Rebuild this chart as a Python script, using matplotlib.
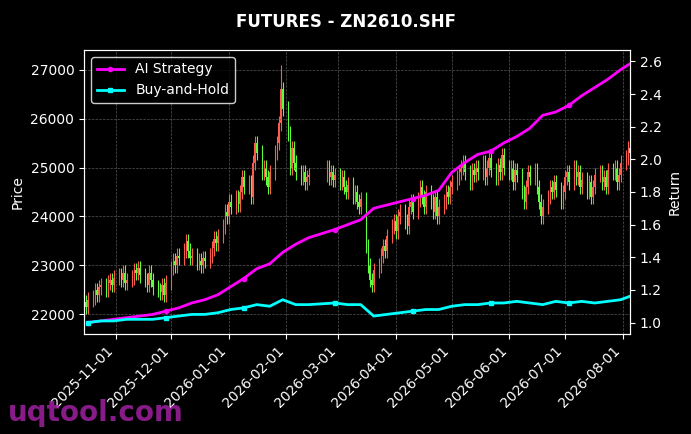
import numpy as np
import pandas as pd
import matplotlib
matplotlib.use("Agg")
import matplotlib.pyplot as plt
import matplotlib.dates as mdates

# weekly rows of daily closes (Mon..Fri), CNY week skipped
WEEKS = ["2025-10-13", "2025-10-20", "2025-10-27", "2025-11-03", "2025-11-10", "2025-11-17",
         "2025-11-24", "2025-12-01", "2025-12-08", "2025-12-15", "2025-12-22", "2025-12-29",
         "2026-01-05", "2026-01-12", "2026-01-19", "2026-01-26", "2026-02-02", "2026-02-09",
         "2026-02-23", "2026-03-02", "2026-03-09", "2026-03-16", "2026-03-23", "2026-03-30",
         "2026-04-06", "2026-04-13", "2026-04-20", "2026-04-27", "2026-05-04", "2026-05-11",
         "2026-05-18", "2026-05-25", "2026-06-01", "2026-06-08", "2026-06-15", "2026-06-22",
         "2026-06-29", "2026-07-06", "2026-07-13", "2026-07-20", "2026-07-27", "2026-08-03"]
CLOSES = [
    [22200, 22050, 22250, 22150, 22300], [22350, 22500, 22400, 22550, 22600],
    [22500, 22650, 22700, 22600, 22750], [22800, 22700, 22850, 22650, 22700],
    [22750, 22900, 22850, 22950, 22800], [22700, 22600, 22850, 22700, 22550],
    [22500, 22450, 22600, 22400, 22650], [22950, 23100, 23000, 23200, 23150],
    [23300, 23500, 23300, 23150, 23200], [23050, 23100, 23000, 23150, 23100],
    [23200, 23350, 23550, 23450, 23600], [23800, 24100, 24000, 24300, 24200],
    [24400, 24250, 24500, 24800, 24600], [24700, 24400, 25100, 25500, 25300],
    [24900, 25000, 24800, 24600, 24900], [25300, 25500, 25900, 26600, 26200],
    [25700, 25000, 25400, 25100, 24900], [24800, 24900, 24700, 24800, 24850],
    [25000, 24800, 24900, 24750, 24850], [24700, 24800, 24600, 24500, 24650],
    [24400, 24500, 24300, 24200, 24350], [23400, 23000, 22700, 22600, 22900],
    [23000, 23200, 23400, 23300, 23600], [23800, 23900, 23700, 24000, 24100],
    [23900, 23800, 24200, 24300, 24100], [24350, 24600, 24400, 24200, 24500],
    [24300, 24100, 24400, 24000, 24200], [24300, 24500, 24400, 24600, 24700],
    [24800, 24900, 25000, 25100, 24900], [24700, 24950, 24850, 25000, 24900],
    [25100, 24800, 25000, 25200, 24950], [24800, 25050, 24900, 25250, 25000],
    [24900, 25000, 24700, 24950, 24850], [24500, 24300, 24600, 24900, 24800],
    [24950, 24600, 24300, 24000, 24200], [24400, 24600, 24500, 24700, 24550],
    [24300, 24500, 24800, 24900, 24700], [25000, 24800, 24900, 24600, 24750],
    [24500, 24700, 24400, 24600, 24850], [24900, 24700, 24800, 24600, 24950],
    [24900, 25000, 24700, 24850, 25100], [25200, 25400, 25300]]
STRATEGY = [1.00, 1.01, 1.02, 1.03, 1.04, 1.05, 1.07, 1.09, 1.12, 1.14, 1.17, 1.22, 1.27, 1.33,
            1.36, 1.43, 1.48, 1.52, 1.57, 1.60, 1.63, 1.70, 1.72, 1.74, 1.76, 1.78, 1.81, 1.92,
            1.98, 2.03, 2.05, 2.10, 2.14, 2.19, 2.27, 2.29, 2.33, 2.39, 2.44, 2.49, 2.55, 2.60]
BUYHOLD = [1.00, 1.01, 1.01, 1.02, 1.02, 1.02, 1.03, 1.04, 1.05, 1.05, 1.06, 1.08, 1.09, 1.11,
           1.10, 1.14, 1.11, 1.11, 1.12, 1.11, 1.11, 1.04, 1.05, 1.06, 1.07, 1.08, 1.08, 1.10,
           1.11, 1.11, 1.12, 1.12, 1.13, 1.12, 1.11, 1.13, 1.12, 1.13, 1.12, 1.13, 1.14, 1.17]

dates, closes = [], []
for w, row in zip(WEEKS, CLOSES):
    for i, c in enumerate(row):
        dates.append(pd.Timestamp(w) + pd.Timedelta(days=i))
        closes.append(c)
closes = np.array(closes, float)
opens = np.r_[closes[0] - 100, closes[:-1]]
highs = np.maximum(opens, closes) + 150
lows = np.minimum(opens, closes) - 150
highs[np.argmax(closes)] = 27100
lows[np.argmin(closes)] = 22400
x = mdates.date2num(dates)
line_x = mdates.date2num([pd.Timestamp(w) + pd.Timedelta(days=4) for w in WEEKS])

plt.style.use("dark_background")
fig = plt.figure(figsize=(6.91, 4.34), dpi=100)
ax = fig.add_axes([84 / 691, 100 / 434, 546 / 691, 284 / 434])
up_col, dn_col = "#ff5a4e", "#5cff3c"
for xi, o, h, l, c in zip(x, opens, highs, lows, closes):
    col = up_col if c >= o else dn_col
    ax.vlines(xi, l, h, color=col, lw=0.8)
    ax.bar(xi, max(abs(c - o), 10), bottom=min(o, c), width=0.6, color=col, lw=0)
ax.set_ylim(21600, 27400)
ax.set_ylabel("Price")
ax.grid(True, ls="--", lw=0.5, color="#555555")
ax.xaxis.set_major_locator(mdates.MonthLocator())
ax.xaxis.set_major_formatter(mdates.DateFormatter("%Y-%m-%d"))
plt.setp(ax.get_xticklabels(), rotation=45, ha="right")
ax.set_xlim(mdates.date2num(pd.Timestamp("2025-10-15")), mdates.date2num(pd.Timestamp("2026-08-05")))

ax2 = ax.twinx()
ax2.plot(line_x, STRATEGY, color="#ff00ff", lw=2, marker="o", ms=3, markevery=6, label="AI Strategy")
ax2.plot(line_x, BUYHOLD, color="#00ffff", lw=2, marker="s", ms=3, markevery=6, label="Buy-and-Hold")
ax2.set_ylim(0.93, 2.67)
ax2.set_ylabel("Return")
ax2.legend(loc="upper left", facecolor="black", edgecolor="white")

fig.suptitle("FUTURES - ZN2610.SHF", fontweight="bold", y=0.97)
fig.text(0.012, 0.03, "uqtool.com", color="#a020a0", fontsize=20, fontweight="bold", alpha=0.85)
fig.savefig("out.png", dpi=100, facecolor="black")
